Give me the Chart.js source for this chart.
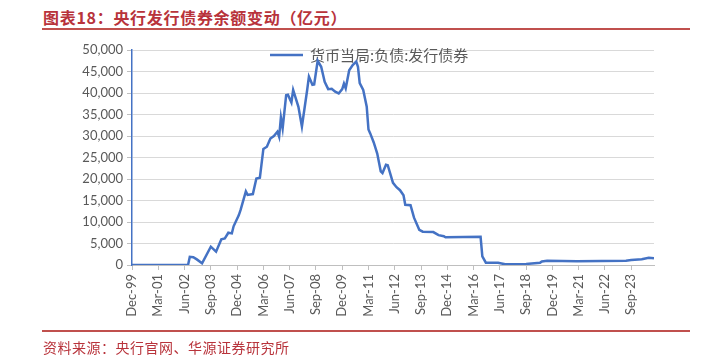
<!DOCTYPE html>
<html>
<head>
<meta charset="utf-8">
<script src="https://cdn.jsdelivr.net/npm/chart.js@4.4.1/dist/chart.umd.min.js"></script>
<style>
html,body{margin:0;padding:0;background:#fff;}
#wrap{position:relative;width:701px;height:356px;overflow:hidden;background:#fff;}
#title{position:absolute;left:43px;top:7px;font-family:"Noto Sans CJK SC";font-weight:700;font-size:16px;line-height:20px;color:#b8333b;white-space:nowrap;letter-spacing:0.7px;}
.rule{position:absolute;left:42px;width:648px;height:2px;background:#c0504d;}
#src{position:absolute;left:43px;top:338px;font-family:"Noto Sans CJK SC";font-size:14px;line-height:18px;color:#b8333b;white-space:nowrap;letter-spacing:0.5px;}
canvas{position:absolute;left:0;top:0;}
</style>
</head>
<body>
<div id="wrap">
  <div id="title">图表18：央行发行债券余额变动（亿元）</div>
  <div class="rule" style="top:28px"></div>
  <canvas id="c" width="701" height="356"></canvas>
  <div class="rule" style="top:330px"></div>
  <div id="src">资料来源：央行官网、华源证券研究所</div>
</div>
<script>
// ---- data ----
const seriesName = "货币当局:负债:发行债券";
const dates = [
  "1999-12","2002-08","2002-09","2002-11","2003-01","2003-04","2003-09","2003-12",
  "2004-03","2004-05","2004-07","2004-09","2004-10","2005-01","2005-02","2005-05",
  "2005-06","2005-09","2005-11","2006-01","2006-03","2006-05","2006-07","2006-09",
  "2006-11","2006-12","2007-01","2007-02","2007-04","2007-05","2007-07","2007-08",
  "2007-11","2008-01","2008-04","2008-05","2008-07","2008-08","2008-10","2008-12",
  "2009-02","2009-04","2009-06","2009-08","2009-10","2009-12","2010-01","2010-02",
  "2010-04","2010-06","2010-08","2010-09","2010-10","2010-12","2011-02","2011-03",
  "2011-04","2011-06","2011-08","2011-10","2011-11","2012-01","2012-02","2012-05",
  "2012-07","2012-09","2012-11","2012-12","2013-03","2013-05","2013-08","2013-10",
  "2014-04","2014-07","2014-10","2014-11","2016-07","2016-08","2016-10","2017-05",
  "2017-09","2018-09","2019-05","2019-06","2019-09","2021-02","2023-06","2023-09",
  "2024-03","2024-07","2024-10"
];
const values = [
  0,0,1900,1800,1300,400,4260,3100,
  6000,6200,7500,7350,9000,11600,12800,17100,
  16300,16500,20100,20300,27000,27500,29400,30000,
  31000,29800,34300,31800,39500,39600,37800,40700,
  36800,32200,40700,43800,41900,42000,47500,46100,
  42600,40900,41000,40300,39900,40900,42200,41100,
  45300,46500,47300,46100,42300,40700,36800,31500,
  30600,28500,25900,21800,21400,23300,23200,19100,
  18100,17400,16200,14000,13900,11000,8200,7750,
  7650,6950,6700,6450,6550,2000,540,540,
  160,230,540,800,1000,860,1000,1160,
  1320,1700,1550
];
const tickLabels = ["Dec-99","Mar-01","Jun-02","Sep-03","Dec-04","Mar-06","Jun-07","Sep-08","Dec-09","Mar-11",
                    "Jun-12","Sep-13","Dec-14","Mar-16","Jun-17","Sep-18","Dec-19","Mar-21","Jun-22","Sep-23"];
const yTicks = [0,5000,10000,15000,20000,25000,30000,35000,40000,45000,50000];

// month offset from Dec-1999
function monthIndex(d){ const p=d.split('-'); return (+p[0]-1999)*12 + (+p[1]-12); }
const tickStep = 15;
const xMax = monthIndex(dates[dates.length-1]);

const blue = '#4472c4';
const grey = '#595959';
const tickFont = {family:'Lato', size:13};

const legendPlugin = {
  id:'customLegend',
  beforeDatasetsDraw(chart){
    const ctx = chart.ctx, a = chart.chartArea;
    const x0 = a.left + 138, y0 = a.top + 5;
    ctx.save();
    ctx.strokeStyle = blue; ctx.lineWidth = 2.5;
    ctx.beginPath(); ctx.moveTo(x0, y0); ctx.lineTo(x0+33, y0); ctx.stroke();
    ctx.fillStyle = grey; ctx.font = '15px "Noto Sans CJK SC"';
    ctx.textBaseline = 'middle'; ctx.textAlign = 'left';
    ctx.fillText(seriesName, x0+40, y0);
    ctx.restore();
  }
};

new Chart(document.getElementById('c'), {
  type:'line',
  data:{datasets:[{
    label:seriesName,
    data:dates.map((d,i)=>({x:monthIndex(d), y:values[i]})),
    borderColor:blue, borderWidth:2.5, pointRadius:0, tension:0, fill:false
  }]},
  options:{
    responsive:false, animation:false,
    layout:{padding:{left:0,right:47,top:50,bottom:0}},
    plugins:{legend:{display:false}, tooltip:{enabled:false}},
    scales:{
      x:{
        type:'linear', min:0, max:xMax, bounds:'data',
        afterBuildTicks:s=>{ s.ticks = tickLabels.map((_,i)=>({value:i*tickStep})); },
        afterFit:s=>{ s.height = 91; },
        grid:{drawOnChartArea:false, drawTicks:true, tickLength:5, tickColor:'#bfbfbf'},
        border:{color:'#bfbfbf', width:1},
        ticks:{autoSkip:false, maxRotation:90, minRotation:90, padding:4, color:grey, font:tickFont,
               callback:v=>tickLabels[Math.round(v/tickStep)]}
      },
      y:{
        min:0, max:50000,
        afterBuildTicks:s=>{ s.ticks = yTicks.map(v=>({value:v})); },
        afterFit:s=>{ s.width = 132; },
        grid:{color:'#d9d9d9', lineWidth:1, tickLength:5, tickColor:'#bfbfbf'},
        border:{color:blue, width:1.5},
        ticks:{padding:4, color:grey, font:tickFont, callback:v=>v.toLocaleString('en-US')}
      }
    }
  },
  plugins:[legendPlugin]
});
</script>
</body>
</html>
